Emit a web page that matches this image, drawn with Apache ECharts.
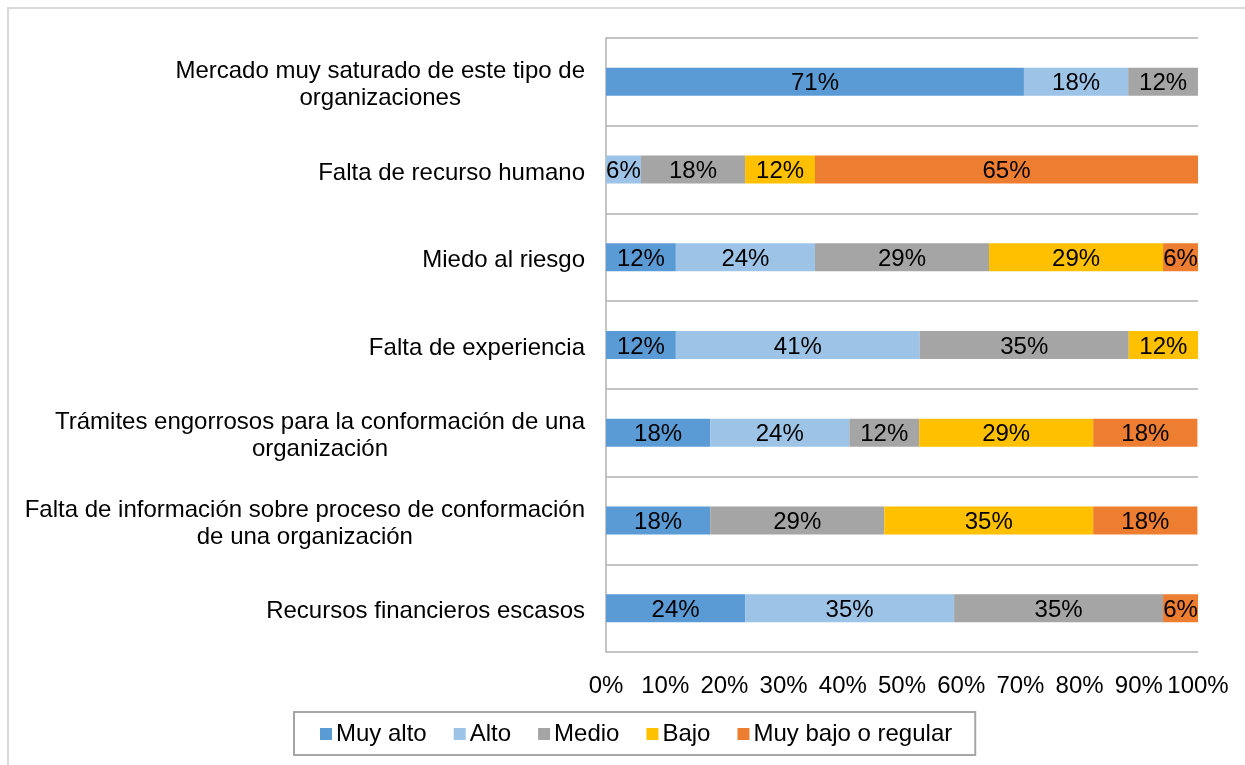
<!DOCTYPE html>
<html>
<head>
<meta charset="utf-8">
<script src="https://cdn.jsdelivr.net/npm/echarts@6/dist/echarts.min.js"></script>
<style>
  html, body { margin: 0; padding: 0; background: #fff; }
  #chart { width: 1245px; height: 765px; }
</style>
</head>
<body>
<div id="chart"></div>
<script>
// categories, top to bottom
const categories = [
  'Mercado muy saturado de este tipo de\norganizaciones',
  'Falta de recurso humano',
  'Miedo al riesgo',
  'Falta de experiencia',
  'Trámites engorrosos para la conformación de una\norganización',
  'Falta de información sobre proceso de conformación\nde una organización',
  'Recursos financieros escasos'
]

// percentages per category (shares of 17 answers)
const muyAlto    = [70.6, 0,    11.8, 11.8, 17.6, 17.6, 23.5]
const alto       = [17.6, 5.9,  23.5, 41.2, 23.5, 0,    35.3]
const medio      = [11.8, 17.6, 29.4, 35.3, 11.8, 29.4, 35.3]
const bajo       = [0,    11.8, 29.4, 11.8, 29.4, 35.3, 0]
const muyBajo    = [0,    64.7, 5.9,  0,    17.6, 17.6, 5.9]

const seriesNames = ['Muy alto', 'Alto', 'Medio', 'Bajo', 'Muy bajo o regular']
const seriesColors = ['#5B9BD5', '#9DC3E6', '#A5A5A5', '#FFC000', '#ED7D31']
const seriesData = [muyAlto, alto, medio, bajo, muyBajo]

const font = 'Liberation Sans, Arial, sans-serif'
const fs = 24

let myChart = echarts.init(document.getElementById('chart'))

let series = seriesNames.map((name, i) => ({
  name: name,
  type: 'bar',
  stack: 'total',
  barWidth: 28,
  itemStyle: { color: seriesColors[i] },
  label: {
    show: true,
    position: 'inside',
    offset: [0, 2],
    color: '#000',
    fontFamily: font,
    fontSize: fs,
    formatter: p => p.value > 0 ? Math.round(p.value) + '%' : ''
  },
  data: seriesData[i].map(v => v > 0 ? v : null)
}))

let option = {
  animation: false,
  textStyle: { fontFamily: font },
  graphic: [{
    type: 'rect',
    silent: true,
    shape: { x: 8, y: 8, width: 1400, height: 900 },
    style: { fill: 'none', stroke: '#d9d9d9', lineWidth: 2 }
  }],
  grid: { left: 606, right: 47, top: 38, bottom: 113 },
  legend: {
    data: seriesNames,
    left: 294,
    top: 712,
    itemWidth: 12,
    itemHeight: 12,
    itemGap: 27,
    padding: [10, 23, 9, 26],
    borderColor: '#a6a6a6',
    borderWidth: 2,
    icon: 'rect',
    textStyle: { color: '#000', fontSize: fs, fontFamily: font, padding: [0, 0, 0, -1] }
  },
  xAxis: {
    type: 'value',
    min: 0,
    max: 100,
    interval: 10,
    axisLine: { show: false },
    axisTick: { show: false },
    splitLine: { show: false },
    axisLabel: {
      color: '#000',
      fontSize: fs,
      fontFamily: font,
      margin: 22,
      formatter: '{value}%'
    }
  },
  yAxis: {
    type: 'category',
    inverse: true,
    data: categories,
    axisLine: { show: true, lineStyle: { color: '#b0b0b0', width: 1.5 } },
    axisTick: { show: false },
    splitLine: { show: true, lineStyle: { color: '#b0b0b0', width: 1.5 } },
    axisLabel: {
      margin: 21,
      color: '#000',
      fontSize: fs,
      fontFamily: font,
      lineHeight: 27,
      padding: [7, 0, 0, 0],
      formatter: v => v.split('\n').map(s => '{c|' + s + '}').join('\n'),
      rich: {
        c: { align: 'center', fontSize: fs, lineHeight: 27, color: '#000', fontFamily: font }
      }
    }
  },
  series: series
}

myChart.setOption(option)
</script>
</body>
</html>
